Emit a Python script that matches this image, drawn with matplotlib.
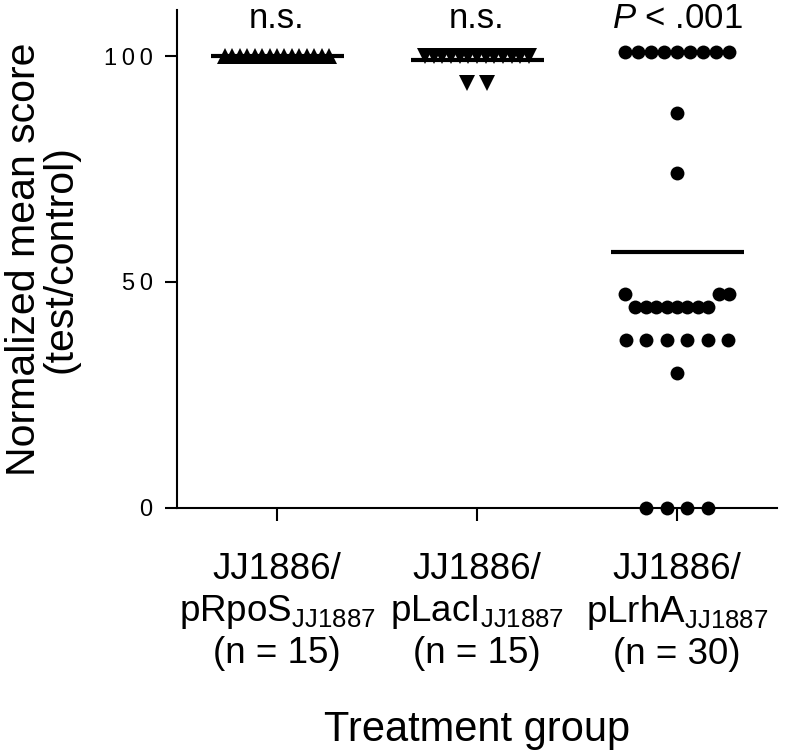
import numpy as np
import matplotlib.pyplot as plt

plt.rcParams['font.family'] = ['Liberation Sans', 'DejaVu Sans']
plt.rcParams['mathtext.fontset'] = 'custom'
plt.rcParams['mathtext.rm'] = 'Liberation Sans'
plt.rcParams['mathtext.it'] = 'Liberation Sans:italic'

# Daten
group_labels = ['JJ1886/\npRpoS$_{\\mathregular{JJ1887}}$\n(n = 15)',
                'JJ1886/\npLacI$_{\\mathregular{JJ1887}}$\n(n = 15)',
                'JJ1886/\npLrhA$_{\\mathregular{JJ1887}}$\n(n = 30)']
rpos_scores = [100] * 15
laci_scores = [100] * 13 + [94, 94]
lrha_scores = [101] * 9 + [87.3, 74.0] + [47.3] * 3 + [44.5] * 8 + [37.1] * 6 + [29.8] + [0] * 4
group_means = [100, 99.2, 56.5]
stat_labels = ['n.s.', 'n.s.', '$P$ < .001']
y_ticks = [0, 50, 100]


def swarm_offsets(values, step=0.1025, span=0.52, tol=4):
    # einfache Anordnung wie in Prism: gleiche Werte nebeneinander
    vals = np.asarray(values, float)
    order = np.argsort(vals, kind='stable')
    offsets = np.zeros(len(vals))
    bins = []
    for i in order:
        if bins and vals[i] - vals[bins[-1][0]] < tol:
            bins[-1].append(i)
        else:
            bins.append([i])
    for b in bins:
        n = len(b)
        if n == 1:
            continue
        d = min(step, span / (n - 1))
        slots = (np.arange(n) - (n - 1) / 2) * d
        slot_order = sorted(range(n), key=lambda k: (abs(slots[k]), slots[k]))
        for i, k in zip(b, slot_order):
            offsets[i] = slots[k]
    return offsets


fig = plt.figure(figsize=(8, 7.55), dpi=100)
ax = fig.add_axes([0.22125, 0.3276, 0.75, 0.6592])

series = [(rpos_scores, '^', 11), (laci_scores, 'v', 11), (lrha_scores, 'o', 10)]
for i, (scores, marker, ms) in enumerate(series):
    pos = i + 1
    x = pos + swarm_offsets(scores)
    ax.plot(x, scores, ls='none', marker=marker, ms=ms, color='black',
            markeredgewidth=0, clip_on=False, zorder=3)
    ax.hlines(group_means[i], pos - 0.3325, pos + 0.3325, color='black', lw=3, zorder=4)
    ax.text(pos, 106.3, stat_labels[i], ha='center', va='baseline', fontsize=25)

ax.set_xlim(0.5, 3.5)
ax.set_ylim(0, 110.2)
ax.set_xticks([1, 2, 3])
ax.set_xticklabels(group_labels, fontsize=26.5, linespacing=1.2)
ax.set_yticks(y_ticks)
# Ziffern leicht gesperrt wie im Original
ax.set_yticklabels(['\u2009'.join(str(t)) for t in y_ticks], fontsize=17)

for side in ['top', 'right']:
    ax.spines[side].set_visible(False)
for side in ['left', 'bottom']:
    ax.spines[side].set_linewidth(1.5)
ax.tick_params(axis='both', direction='out', width=1.5, length=9)
ax.tick_params(axis='x', pad=23)
ax.tick_params(axis='y', pad=8.5)

ax.set_ylabel('Normalized mean score\n(test/control)', fontsize=29.5, linespacing=0.95)
ax.yaxis.set_label_coords(-0.162, 0.5)
ax.set_xlabel('Treatment group', fontsize=30, labelpad=27)

fig.savefig('out.png', dpi=100)
